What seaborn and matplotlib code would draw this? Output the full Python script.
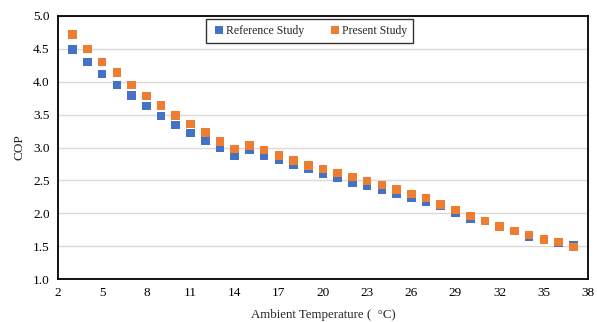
import matplotlib
matplotlib.use("Agg")
import matplotlib.pyplot as plt
import seaborn as sns
import pandas as pd

temps = list(range(3, 38))
reference_study = [4.49, 4.30, 4.12, 3.95, 3.79, 3.63, 3.48, 3.34, 3.22, 3.11,
                   2.99, 2.87, 2.96, 2.88, 2.81, 2.74, 2.67, 2.60, 2.54, 2.47,
                   2.42, 2.36, 2.30, 2.23, 2.17, 2.12, 2.01, 1.91, 1.88, 1.80,
                   1.73, 1.65, 1.60, 1.55, 1.51]
present_study = [4.72, 4.50, 4.30, 4.14, 3.95, 3.78, 3.64, 3.49, 3.36, 3.23,
                 3.09, 2.98, 3.03, 2.96, 2.88, 2.80, 2.73, 2.67, 2.61, 2.55,
                 2.49, 2.43, 2.36, 2.29, 2.23, 2.13, 2.05, 1.96, 1.88, 1.80,
                 1.73, 1.67, 1.60, 1.56, 1.49]
series_names = ["Reference Study", "Present Study"]
x_ticks = [2, 5, 8, 11, 14, 17, 20, 23, 26, 29, 32, 35, 38]
y_ticks = [1.0, 1.5, 2.0, 2.5, 3.0, 3.5, 4.0, 4.5, 5.0]

df = pd.DataFrame({
    "T": temps * 2,
    "COP": reference_study + present_study,
    "Series": [series_names[0]] * len(temps) + [series_names[1]] * len(temps),
})

sns.set_style("white")
plt.rcParams["font.family"] = ["Liberation Serif", "DejaVu Serif"]

fig = plt.figure(figsize=(5.97, 3.22), dpi=100)
ax = fig.add_axes([58/597, 1-279/322, (588-58)/597, (279-16)/322])

palette = {series_names[0]: "#4472C4", series_names[1]: "#ED7D31"}
sns.scatterplot(data=df, x="T", y="COP", hue="Series", palette=palette,
                marker="s", s=38, linewidth=0, ax=ax, zorder=3)

ax.set_xlim(2, 38)
ax.set_ylim(1.0, 5.0)
ax.set_xticks(x_ticks)
ax.set_yticks(y_ticks)
ax.set_yticklabels([f"{v:.1f}" for v in y_ticks])
ax.yaxis.grid(True, color="#d9d9d9", linewidth=1.0, zorder=0)
ax.xaxis.grid(False)
ax.set_axisbelow(True)
for sp in ax.spines.values():
    sp.set_color("black")
    sp.set_linewidth(1.3)
ax.tick_params(axis="both", labelsize=9.5, length=0, pad=6, colors="black")
ax.set_xlabel("Ambient Temperature (  °C)", fontsize=9.3, labelpad=7)
ax.set_ylabel("COP", fontsize=9.5, labelpad=5)

leg = ax.legend(loc="center", bbox_to_anchor=(0.475, 0.943), ncol=2,
                frameon=True, fancybox=False, fontsize=8.5, handletextpad=0.0,
                columnspacing=2.0, borderpad=0.5, markerscale=1.0,
                handlelength=1.2)
leg.get_frame().set_edgecolor("black")
leg.get_frame().set_linewidth(1.0)
for h in leg.legend_handles:
    if hasattr(h, "set_sizes"):
        h.set_sizes([38])

fig.savefig("out.png", dpi=100)
